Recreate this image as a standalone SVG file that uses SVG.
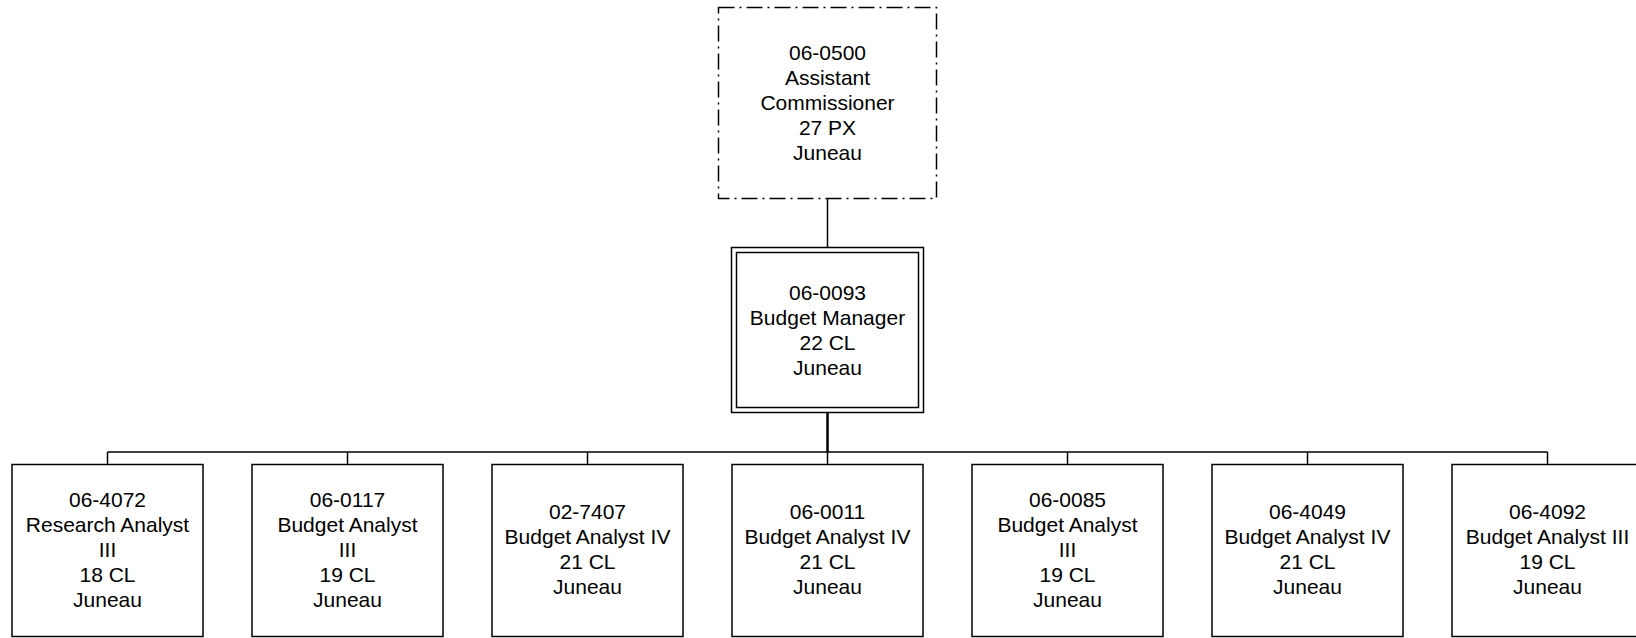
<svg xmlns="http://www.w3.org/2000/svg" width="1636" height="638" viewBox="0 0 1636 638">
<style>
.box{fill:#fff;stroke:#000;stroke-width:1.5}
.dash{fill:#fff;stroke:#000;stroke-width:1.5;stroke-dasharray:16,5,2,5}
.ln{stroke:#000;stroke-width:1.5;fill:none}
.thick{stroke:#000;stroke-width:2.5;fill:none}
text{font-family:"Liberation Sans",Arial,sans-serif;font-size:21px;fill:#000;text-anchor:middle;dominant-baseline:central}
</style>
<rect width="1636" height="638" fill="#fff"/>
<g id="connectors">
<line class="ln" x1="827.5" y1="199" x2="827.5" y2="247"/>
<line class="thick" x1="827.5" y1="413" x2="827.5" y2="452"/>
<line class="ln" x1="107.5" y1="452" x2="1547.5" y2="452"/>
<line class="ln" x1="107.5" y1="452" x2="107.5" y2="464"/>
<line class="ln" x1="347.5" y1="452" x2="347.5" y2="464"/>
<line class="ln" x1="587.5" y1="452" x2="587.5" y2="464"/>
<line class="ln" x1="827.5" y1="452" x2="827.5" y2="464"/>
<line class="ln" x1="1067.5" y1="452" x2="1067.5" y2="464"/>
<line class="ln" x1="1307.5" y1="452" x2="1307.5" y2="464"/>
<line class="ln" x1="1547.5" y1="452" x2="1547.5" y2="464"/>
</g>
<g id="n0500">
<rect class="dash" x="718.5" y="7.5" width="218" height="191"/>
<text x="827.5" y="52">06-0500</text>
<text x="827.5" y="77">Assistant</text>
<text x="827.5" y="102">Commissioner</text>
<text x="827.5" y="127">27 PX</text>
<text x="827.5" y="152">Juneau</text>
</g>
<g id="n0093">
<rect class="box" x="731.5" y="247.5" width="192" height="165"/>
<rect class="box" x="736.5" y="252.5" width="182" height="155"/>
<text x="827.5" y="292">06-0093</text>
<text x="827.5" y="317">Budget Manager</text>
<text x="827.5" y="342">22 CL</text>
<text x="827.5" y="367">Juneau</text>
</g>
<g id="n4072">
<rect class="box" x="12" y="464.5" width="191" height="172"/>
<text x="107.5" y="499">06-4072</text>
<text x="107.5" y="524">Research Analyst</text>
<text x="107.5" y="549">III</text>
<text x="107.5" y="574">18 CL</text>
<text x="107.5" y="599">Juneau</text>
</g>
<g id="n0117">
<rect class="box" x="252" y="464.5" width="191" height="172"/>
<text x="347.5" y="499">06-0117</text>
<text x="347.5" y="524">Budget Analyst</text>
<text x="347.5" y="549">III</text>
<text x="347.5" y="574">19 CL</text>
<text x="347.5" y="599">Juneau</text>
</g>
<g id="n7407">
<rect class="box" x="492" y="464.5" width="191" height="172"/>
<text x="587.5" y="511.5">02-7407</text>
<text x="587.5" y="536.5">Budget Analyst IV</text>
<text x="587.5" y="561.5">21 CL</text>
<text x="587.5" y="586.5">Juneau</text>
</g>
<g id="n0011">
<rect class="box" x="732" y="464.5" width="191" height="172"/>
<text x="827.5" y="511.5">06-0011</text>
<text x="827.5" y="536.5">Budget Analyst IV</text>
<text x="827.5" y="561.5">21 CL</text>
<text x="827.5" y="586.5">Juneau</text>
</g>
<g id="n0085">
<rect class="box" x="972" y="464.5" width="191" height="172"/>
<text x="1067.5" y="499">06-0085</text>
<text x="1067.5" y="524">Budget Analyst</text>
<text x="1067.5" y="549">III</text>
<text x="1067.5" y="574">19 CL</text>
<text x="1067.5" y="599">Juneau</text>
</g>
<g id="n4049">
<rect class="box" x="1212" y="464.5" width="191" height="172"/>
<text x="1307.5" y="511.5">06-4049</text>
<text x="1307.5" y="536.5">Budget Analyst IV</text>
<text x="1307.5" y="561.5">21 CL</text>
<text x="1307.5" y="586.5">Juneau</text>
</g>
<g id="n4092">
<rect class="box" x="1452" y="464.5" width="191" height="172"/>
<text x="1547.5" y="511.5">06-4092</text>
<text x="1547.5" y="536.5">Budget Analyst III</text>
<text x="1547.5" y="561.5">19 CL</text>
<text x="1547.5" y="586.5">Juneau</text>
</g>
</svg>
